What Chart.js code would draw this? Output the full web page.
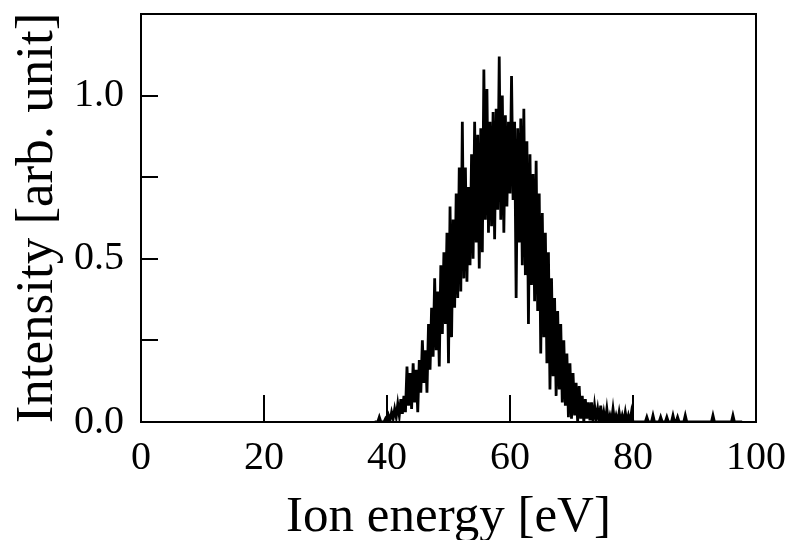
<!DOCTYPE html>
<html>
<head>
<meta charset="utf-8">
<script src="https://cdn.jsdelivr.net/npm/chart.js@4.4.1/dist/chart.umd.min.js"></script>
<style>
  html, body { margin: 0; padding: 0; background: #fff; }
  #wrap { width: 790px; height: 540px; }
</style>
</head>
<body>
<div id="wrap"><canvas id="spectrum"></canvas></div>
<script>
// --- Ion energy distribution ---

// bin grid of the measured spectrum (eV)
const E_START = 38;
const E_STEP = 0.25;

// intensity per bin, 38.00 .. 80.00 eV
const mainIntensity = [
  0, 0, 0, 0.015, 0, 0, 0, 0.01,
  0, 0.02, 0.005, 0.03, 0.01, 0.04, 0.015, 0.055,
  0.02, 0.07, 0.025, 0.08, 0.03, 0.17, 0.05, 0.15,
  0.04, 0.18, 0.06, 0.16, 0.03, 0.19, 0.09, 0.25,
  0.12, 0.22, 0.09, 0.30, 0.16, 0.35, 0.20, 0.44,
  0.22, 0.40, 0.17, 0.48, 0.27, 0.52, 0.30, 0.58,
  0.18, 0.66, 0.26, 0.62, 0.35, 0.70, 0.38, 0.78,
  0.40, 0.92, 0.44, 0.78, 0.43, 0.72, 0.48, 0.82,
  0.50, 0.92, 0.55, 0.88, 0.47, 0.90, 0.52, 1.08,
  0.62, 1.02, 0.58, 0.92, 0.60, 0.95, 0.56, 0.96,
  0.65, 1.12, 0.62, 1.00, 0.58, 0.94, 0.66, 0.92,
  0.70, 1.06, 0.68, 0.92, 0.38, 0.90, 0.55, 0.93,
  0.48, 0.96, 0.45, 0.86, 0.30, 0.82, 0.42, 0.76,
  0.37, 0.80, 0.34, 0.70, 0.21, 0.64, 0.26, 0.58,
  0.18, 0.52, 0.10, 0.44, 0.14, 0.38, 0.08, 0.34,
  0.10, 0.30, 0.06, 0.25, 0.05, 0.21, 0.015, 0.18,
  0.01, 0.15, 0.02, 0.12, 0, 0.11, 0.01, 0.08,
  0, 0.07, 0.01, 0.06, 0.005, 0.06, 0, 0.05,
  0.01, 0.04, 0, 0.05, 0, 0.03, 0, 0.04,
  0, 0.02, 0, 0.04, 0, 0.02, 0, 0.03,
  0, 0.02, 0, 0.03, 0, 0.02, 0, 0.03,
  0
];

// high-energy tail, 80.25 .. 98.00 eV
const tailIntensity = [
  0, 0, 0, 0, 0, 0, 0, 0, 0.015,
  0, 0, 0, 0.02, 0, 0, 0, 0, 0.015,
  0, 0, 0, 0.015, 0, 0, 0, 0.02,
  0, 0, 0.015, 0, 0, 0, 0, 0.02,
  0, 0, 0, 0, 0, 0, 0, 0,
  0, 0, 0, 0, 0, 0, 0, 0, 0, 0.02,
  0, 0, 0, 0, 0, 0, 0, 0, 0, 0, 0, 0, 0.02,
  0, 0, 0, 0, 0, 0
];

const xTicks = [0, 20, 40, 60, 80, 100];
const yTickLabels = [0, 0.5, 1.0];
const xInnerTicks = [20, 40, 60, 80];
const yInnerTicks = [0.25, 0.5, 0.75, 1.0];

const intensity = mainIntensity.concat(tailIntensity);
const points = intensity.map((v, i) => ({ x: E_START + i * E_STEP, y: v }));

const SERIF = '"Liberation Serif", "Times New Roman", serif';

// frame around the plot plus inward tick marks
const framePlugin = {
  id: 'frame',
  afterDatasetsDraw(chart) {
    const { ctx, chartArea: a, scales } = chart;
    ctx.save();
    ctx.strokeStyle = '#000';
    ctx.lineWidth = 2;
    ctx.strokeRect(a.left, a.top, a.right - a.left, a.bottom - a.top);
    ctx.beginPath();
    xInnerTicks.forEach(v => {
      const px = Math.round(scales.x.getPixelForValue(v));
      ctx.moveTo(px, a.bottom);
      ctx.lineTo(px, a.bottom - 27);
    });
    yInnerTicks.forEach(v => {
      const py = Math.round(scales.y.getPixelForValue(v));
      ctx.moveTo(a.left, py);
      ctx.lineTo(a.left + 17, py);
    });
    ctx.stroke();
    ctx.restore();
  }
};

new Chart(document.getElementById('spectrum'), {
  type: 'line',
  data: {
    datasets: [{
      data: points,
      borderColor: '#000',
      borderWidth: 2.8,
      pointRadius: 0,
      tension: 0,
      fill: false
    }]
  },
  options: {
    responsive: true,
    maintainAspectRatio: false,
    animation: false,
    layout: { padding: { top: 14, right: 34, left: 0, bottom: 0 } },
    plugins: { legend: { display: false }, tooltip: { enabled: false } },
    scales: {
      x: {
        type: 'linear',
        min: 0,
        max: 100,
        afterBuildTicks: s => { s.ticks = xTicks.map(v => ({ value: v })); },
        afterFit: s => { s.height = 118; s.paddingLeft = 0; s.paddingRight = 0; },
        grid: { display: false, drawTicks: false },
        border: { display: false },
        ticks: {
          color: '#000',
          padding: 12,
          maxRotation: 0,
          font: { family: SERIF, size: 40 }
        },
        title: {
          display: true,
          text: 'Ion energy [eV]',
          color: '#000',
          padding: { top: 0, bottom: -8 },
          font: { family: SERIF, size: 51 }
        }
      },
      y: {
        min: 0,
        max: 1.25,
        afterBuildTicks: s => { s.ticks = yTickLabels.map(v => ({ value: v })); },
        afterFit: s => { s.width = 141; s.paddingTop = 0; s.paddingBottom = 0; },
        grid: { display: false, drawTicks: false },
        border: { display: false },
        ticks: {
          color: '#000',
          padding: 17,
          callback: v => v.toFixed(1),
          font: { family: SERIF, size: 40 }
        },
        title: {
          display: true,
          text: 'Intensity [arb. unit]',
          color: '#000',
          padding: { top: 6, bottom: 0 },
          font: { family: SERIF, size: 53 }
        }
      }
    }
  },
  plugins: [framePlugin]
});
</script>
</body>
</html>
